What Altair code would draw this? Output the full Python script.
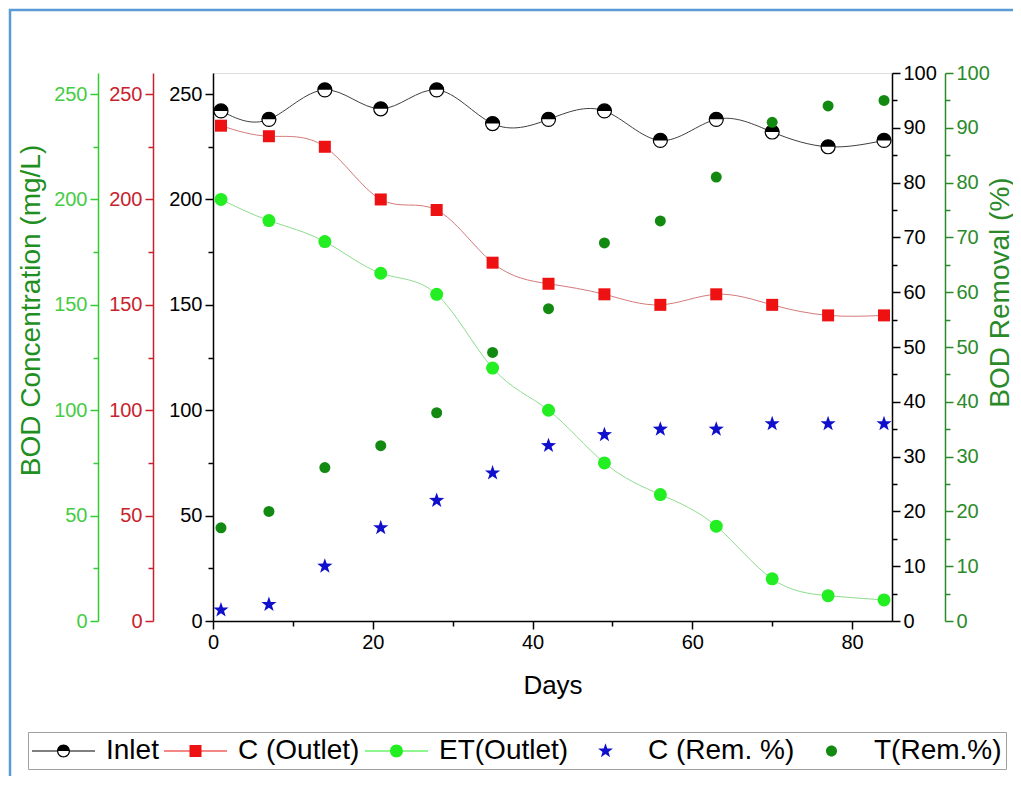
import math
import altair as alt
import pandas as pd

# ---------------- data ----------------
days = [1, 7, 14, 21, 28, 35, 42, 49, 56, 63, 70, 77, 84]
inlet = [242, 238, 252, 243, 252, 236, 238, 242, 228, 238, 232, 225, 228]
c_outlet = [235, 230, 225, 200, 195, 170, 160, 155, 150, 155, 150, 145, 145]
et_outlet = [200, 190, 180, 165, 155, 120, 100, 75, 60, 45, 20, 12, 10]
c_rem = [2, 3, 10, 17, 22, 27, 32, 34, 35, 35, 36, 36, 36]
t_rem = [17, 20, 28, 32, 38, 49, 57, 69, 73, 81, 91, 94, 95]

series_names = ["Inlet", "C (Outlet)", "ET(Outlet)", "C (Rem. %)", "T(Rem.%)"]
conc_ticks = [0, 50, 100, 150, 200, 250]
conc_minor = [25, 75, 125, 175, 225]
pct_ticks = [0, 10, 20, 30, 40, 50, 60, 70, 80, 90, 100]
pct_minor = [5, 15, 25, 35, 45, 55, 65, 75, 85, 95]
day_ticks = [0, 20, 40, 60, 80]
day_minor = [10, 30, 50, 70]

df = pd.DataFrame({"day": days, "inlet": inlet, "c_out": c_outlet,
                   "et_out": et_outlet, "c_rem": c_rem, "t_rem": t_rem})
legend_df = pd.DataFrame({"series": series_names})
frame_df = pd.DataFrame({"k": [0]})

FONT = "Liberation Sans"
BLACK = "#000000"
RED_AX = "#c8232c"
GREEN_L = "#33cc33"
GREEN_L_LAB = "#44cc44"
GREEN_TITLE = "#1f8f1f"
GREEN_R = "#2a8a2a"

C_INLET_LINE = "#404040"
C_RED = "#ee1111"
C_RED_LINE = "#d47a7a"
C_ET = "#22ee22"
C_ET_LINE = "#8fdc8f"
C_STAR = "#1010cc"
C_T = "#128a12"


# ---------------- symbol paths (style only) ----------------
def circle_path(r, cw=True):
    s = 1 if cw else 0
    return (f"M{-r:.4f},0A{r:.4f},{r:.4f},0,1,{s},{r:.4f},0"
            f"A{r:.4f},{r:.4f},0,1,{s},{-r:.4f},0Z")


def star_path(R, ratio=0.40):
    pts = []
    for i in range(10):
        ang = -math.pi / 2 + i * math.pi / 5
        rad = R if i % 2 == 0 else R * ratio
        pts.append((rad * math.cos(ang), rad * math.sin(ang)))
    return "M" + "L".join(f"{x:.4f},{y:.4f}" for x, y in pts) + "Z"


def half_top(r):
    return f"M{-r:.4f},0A{r:.4f},{r:.4f},0,0,1,{r:.4f},0Z"


def seg_lines(L, r, t=0.04):
    return (f"M{-L:.3f},{-t:.3f}H{-r:.3f}V{t:.3f}H{-L:.3f}Z"
            f"M{r:.3f},{-t:.3f}H{L:.3f}V{t:.3f}H{r:.3f}Z")


def extent(L):
    return f"M{-L:.3f},0L{-L:.3f},0.001Z M{L:.3f},0L{L:.3f},0.001Z"


LL = 2.1  # half length of legend line (units of 15px)
leg_inlet = seg_lines(LL, 0.433) + circle_path(0.433) + circle_path(0.35, cw=False) + half_top(0.35)
leg_c = seg_lines(LL, 0.4) + "M-0.4,-0.4H0.4V0.4H-0.4Z"
leg_et = seg_lines(LL, 0.433) + circle_path(0.433)
leg_star = extent(LL) + star_path(0.52)
leg_t = extent(LL) + circle_path(0.367)
legend_shapes = [leg_inlet, leg_c, leg_et, leg_star, leg_t]
legend_colors = [BLACK, C_RED, C_ET, C_STAR, C_T]

HALF_MARK = half_top(1.0)
STAR_MARK = star_path(1.0)

# ---------------- scales / axes ----------------
xscale = alt.Scale(domain=[0, 85], nice=False, zero=False)


def xenc(axis):
    return alt.X("day:Q", scale=xscale, axis=axis)


def conc(field, axis):
    return alt.Y(f"{field}:Q", scale=alt.Scale(domain=[0, 260], nice=False, zero=True), axis=axis)


def pct(field, axis):
    return alt.Y(f"{field}:Q", scale=alt.Scale(domain=[0, 100], nice=False, zero=True), axis=axis)


def major(orient, offset, color, values, label_color=None, **kw):
    return alt.Axis(orient=orient, offset=offset, values=values, grid=False,
                    domainColor=color, domainWidth=1.5, tickColor=color, tickWidth=1.5,
                    tickSize=8, labelColor=label_color or color, labelFontSize=20,
                    labelFont=FONT, labelPadding=3, labelFlush=False, labelOverlap=False,
                    **kw)


def minor(orient, offset, color, values):
    return alt.Axis(orient=orient, offset=offset, values=values, grid=False,
                    labels=False, domain=False, tickColor=color, tickWidth=1.5,
                    tickSize=5, title=None)


x_major = major("bottom", 0, BLACK, day_ticks, title="Days", titleFont=FONT,
                titleFontSize=26, titleFontWeight="normal", titleColor=BLACK,
                titlePadding=20)
x_minor = minor("bottom", 0, BLACK, day_minor)

ax_black_l = major("left", 0, BLACK, conc_ticks, title=None)
ax_black_l_m = minor("left", 0, BLACK, conc_minor)
ax_red = major("left", 60, RED_AX, conc_ticks, title=None)
ax_red_m = minor("left", 60, RED_AX, conc_minor)
ax_green_l = major("left", 115, GREEN_L, conc_ticks, label_color=GREEN_L_LAB,
                   title="BOD Concentration (mg/L)", titleFont=FONT, titleFontSize=28,
                   titleFontWeight="normal", titleColor=GREEN_TITLE, titleAngle=270,
                   titleX=-67, titleY=237, titleAlign="center", titleBaseline="middle")
ax_green_l_m = minor("left", 115, GREEN_L, conc_minor)
ax_black_r = major("right", 0, BLACK, pct_ticks, title=None)
ax_black_r_m = minor("right", 0, BLACK, pct_minor)
ax_green_r = major("right", 53, GREEN_R, pct_ticks,
                   title="BOD Removal (%)", titleFont=FONT, titleFontSize=28,
                   titleFontWeight="normal", titleColor=GREEN_R, titleAngle=270,
                   titleX=55, titleY=219, titleAlign="center", titleBaseline="middle")
ax_green_r_m = minor("right", 53, GREEN_R, pct_minor)

base = alt.Chart(df)

frame = alt.Chart(frame_df).mark_rect(fill="transparent", stroke="#5b9bd5", strokeWidth=2.5).encode(
    x=alt.value(-203), x2=alt.value(900), y=alt.value(-63), y2=alt.value(900))

inlet_line = base.mark_line(color=C_INLET_LINE, strokeWidth=1, interpolate="natural").encode(
    x=xenc(x_major), y=conc("inlet", ax_black_l))
inlet_circ = base.mark_point(shape="circle", filled=True, fill="white", stroke=BLACK,
                             strokeWidth=1.2, size=196, opacity=1).encode(
    x=xenc(x_minor), y=conc("inlet", ax_black_l_m))
inlet_half = base.mark_point(shape=HALF_MARK, filled=True, color=BLACK, size=196, opacity=1).encode(
    x=xenc(None), y=conc("inlet", None))

c_line = base.mark_line(color=C_RED_LINE, strokeWidth=1, interpolate="natural").encode(
    x=xenc(None), y=conc("c_out", ax_red))
c_pts = base.mark_point(shape="square", filled=True, color=C_RED, size=144, opacity=1).encode(
    x=xenc(None), y=conc("c_out", ax_red_m))

et_line = base.mark_line(color=C_ET_LINE, strokeWidth=1, interpolate="natural").encode(
    x=xenc(None), y=conc("et_out", ax_green_l))
et_pts = base.mark_point(shape="circle", filled=True, color=C_ET, size=169, opacity=1).encode(
    x=xenc(None), y=conc("et_out", ax_green_l_m))

star_pts = base.mark_point(shape=STAR_MARK, filled=True, color=C_STAR, size=256, opacity=1).encode(
    x=xenc(None), y=pct("c_rem", ax_black_r))
star_ghost = base.mark_point(opacity=0).encode(
    x=xenc(None), y=pct("c_rem", ax_black_r_m))

t_pts = base.mark_point(shape="circle", filled=True, color=C_T, size=121, opacity=1).encode(
    x=xenc(None), y=pct("t_rem", ax_green_r))
t_ghost = base.mark_point(opacity=0).encode(
    x=xenc(None), y=pct("t_rem", ax_green_r_m))

leg = alt.Legend(orient="none", legendX=-185, legendY=659, direction="horizontal",
                 title=None, labelFont=FONT, labelFontSize=28, labelColor=BLACK,
                 symbolSize=900, symbolStrokeWidth=0, symbolOpacity=1,
                 symbolOffset=16.5, labelOffset=27.5,
                 columnPadding=5, padding=4, strokeColor="#a0a0a0", fillColor="white",
                 labelLimit=400)
legend_layer = alt.Chart(legend_df).mark_point(filled=True, opacity=1, size=900, clip=True).encode(
    x=alt.value(-500), y=alt.value(-500),
    color=alt.Color("series:N", scale=alt.Scale(domain=series_names, range=legend_colors), legend=leg),
    shape=alt.Shape("series:N", scale=alt.Scale(domain=series_names, range=legend_shapes), legend=leg),
)

chart = alt.layer(
    frame, inlet_line, inlet_circ, inlet_half, c_line, c_pts, et_line, et_pts,
    star_pts, star_ghost, t_pts, t_ghost, legend_layer
).resolve_scale(
    y="independent", x="shared"
).resolve_axis(
    y="independent", x="independent"
).properties(
    width=679, height=548,
    autosize=alt.AutoSizeParams(type="none"),
    padding={"left": 205, "top": 65, "right": 121, "bottom": 155},
    background="white",
).configure_view(stroke="transparent").configure(font=FONT)

chart.save("out.html", embed_options={"renderer": "svg", "actions": False})
